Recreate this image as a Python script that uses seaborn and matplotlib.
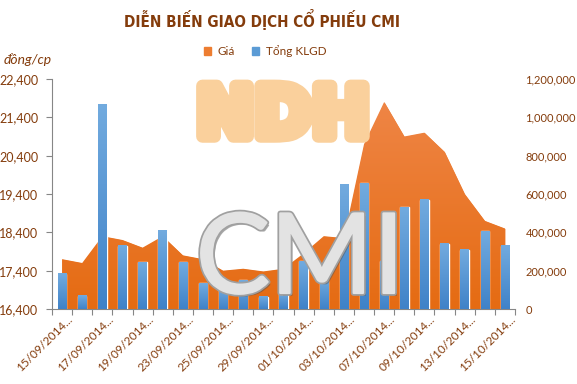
import numpy as np
import pandas as pd
import matplotlib
matplotlib.use("Agg")
import matplotlib.pyplot as plt
import seaborn as sns
import matplotlib.patheffects as pe
from matplotlib.patches import Patch
from matplotlib.colors import LinearSegmentedColormap
from matplotlib.transforms import ScaledTranslation

# ---------------- data ----------------
dates = ["15/09/2014", "16/09/2014", "17/09/2014", "18/09/2014", "19/09/2014",
         "22/09/2014", "23/09/2014", "24/09/2014", "25/09/2014", "26/09/2014",
         "29/09/2014", "30/09/2014", "01/10/2014", "02/10/2014", "03/10/2014",
         "06/10/2014", "07/10/2014", "08/10/2014", "09/10/2014", "10/10/2014",
         "13/10/2014", "14/10/2014", "15/10/2014"]
price = [17700, 17600, 18300, 18200, 18000, 18300, 17800, 17700, 17400, 17450,
         17380, 17450, 17850, 18300, 18250, 20700, 21800, 20900, 21000, 20500,
         19400, 18700, 18500]
volume = [185000, 70000, 1065000, 330000, 245000, 410000, 245000, 135000, 110000,
          150000, 65000, 85000, 250000, 160000, 647000, 656000, 250000, 530000,
          570000, 340000, 310000, 405000, 330000]
price_ticks = [16400, 17400, 18400, 19400, 20400, 21400, 22400]
volume_ticks = [0, 200000, 400000, 600000, 800000, 1000000, 1200000]
title = "DIỄN BIẾN GIAO DỊCH CỔ PHIẾU CMI"
series_names = ["Giá", "Tổng KLGD"]
unit_label = "đồng/cp"

# ---------------- style ----------------
sns.set_theme(style="white")
plt.rcParams["font.family"] = ["Lato", "DejaVu Sans"]
TXT = "#843C0C"
GRID = "#868686"
ORANGE = "#ED7D31"
BLUE = "#5B9BD5"

fig = plt.figure(figsize=(5.77, 3.84), dpi=100)
W, H = 577, 384
ax = fig.add_axes([52 / W, 1 - 309 / H, 463 / W, 230 / H])

x = np.arange(len(dates))
ymin, ymax = price_ticks[0], price_ticks[-1]

# price area with vertical gradient
poly = ax.fill_between(x, price, ymin, color=ORANGE, lw=0, zorder=1)
area_cmap = LinearSegmentedColormap.from_list("area", ["#E56B12", "#F0884B"])
grad = np.linspace(0, 1, 256).reshape(-1, 1)
im = ax.imshow(grad, extent=[-0.5, len(dates) - 0.5, ymin, ymax], aspect="auto",
               origin="lower", cmap=area_cmap, zorder=2)
im.set_clip_path(poly.get_paths()[0], transform=ax.transData)

# volume bars on secondary axis
ax2 = ax.twinx()
df = pd.DataFrame({"date": dates, "volume": volume})
sns.barplot(data=df, x="date", y="volume", ax=ax2, color=BLUE, width=0.42,
            saturation=1, zorder=3)
bar_cmap = LinearSegmentedColormap.from_list("bar", ["#3F82C8", "#72ABDF"])
for p in list(ax2.patches):
    bx, by = p.get_x(), p.get_y()
    bw, bh = p.get_width(), p.get_height()
    ax2.imshow(grad, extent=[bx, bx + bw, by, by + bh], aspect="auto",
               origin="lower", cmap=bar_cmap, zorder=4)

ax.set_xlim(-0.5, len(dates) - 0.5)
ax2.set_xlim(-0.5, len(dates) - 0.5)
ax.set_ylim(ymin, ymax)
ax2.set_ylim(volume_ticks[0], volume_ticks[-1])

# left axis
ax.set_yticks(price_ticks)
ax.set_yticklabels([f"{v:,}" for v in price_ticks])
ax.tick_params(axis="y", which="major", direction="out", length=4, width=0.8,
               color=GRID, labelcolor=TXT, labelsize=9, pad=6, left=True)
# right axis
ax2.set_yticks(volume_ticks)
ax2.set_yticklabels([f"{v:,}" for v in volume_ticks])
ax2.tick_params(axis="y", length=0, labelcolor=TXT, labelsize=8, pad=7.5)
ax2.set_ylabel("")
ax2.set_xlabel("")

# x axis: boundary ticks + rotated labels at category centers
ax.set_xticks(np.arange(-0.5, len(dates), 1))
ax.set_xticklabels([])
ax.set_xticks(x[::2], minor=True)
ax.set_xticklabels([d + "..." for d in dates[::2]], minor=True, rotation=45,
                   ha="right", va="top", rotation_mode="anchor")
ax.tick_params(axis="x", which="major", direction="out", length=4, width=0.8,
               color=GRID, bottom=True)
ax.tick_params(axis="x", which="minor", length=0, labelcolor=TXT,
               labelsize=8.5, pad=3.5)
for lab in ax.get_xticklabels(minor=True):
    lab.set_transform(lab.get_transform() + ScaledTranslation(5 / 100, 0, fig.dpi_scale_trans))

for s in ["top", "right"]:
    ax.spines[s].set_visible(False)
for s in ax2.spines.values():
    s.set_visible(False)
ax.spines["left"].set_color(GRID)
ax.spines["bottom"].set_color(GRID)
ax.spines["left"].set_linewidth(0.8)
ax.spines["bottom"].set_linewidth(0.8)
ax.grid(False)
ax2.grid(False)

# title, unit, legend
fig.text(262 / W, 1 - 20 / H, title, ha="center", va="center", fontsize=11,
         fontweight="bold", fontstretch="condensed", color=TXT,
         family=["DejaVu Sans"])
fig.text(4 / W, 1 - 60 / H, unit_label, ha="left", va="center", fontsize=10,
         style="italic", color=TXT)
handles = [Patch(color=ORANGE), Patch(color=BLUE)]
fig.legend(handles, series_names, loc="center", bbox_to_anchor=(265 / W, 1 - 51 / H),
           ncol=2, frameon=False, handlelength=0.6, handleheight=0.6,
           handletextpad=0.6, columnspacing=1.4, fontsize=8.5, labelcolor=TXT)

# watermarks
fig.text(283 / W, 1 - 117 / H, "NDH", ha="center", va="center", fontsize=50,
         fontweight="bold", color="#FAD09C", zorder=10, family=["DejaVu Sans"],
         path_effects=[pe.Stroke(linewidth=9, foreground="#FAD09C"), pe.Normal()])
fig.text(300 / W, 1 - 262 / H, "CMI", ha="center", va="center", fontsize=80,
         color="#E3E3E3", zorder=11,
         path_effects=[pe.SimplePatchShadow(offset=(2, -2), shadow_rgbFace="#555555", alpha=0.5),
                       pe.Stroke(linewidth=4, foreground="#A0A0A0"),
                       pe.Stroke(linewidth=1.5, foreground="#E3E3E3"), pe.Normal()])

fig.savefig("out.png", dpi=100)
